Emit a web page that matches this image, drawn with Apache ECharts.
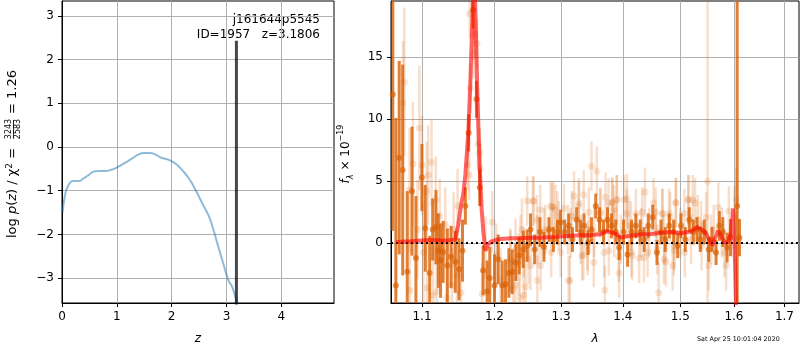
<!DOCTYPE html>
<html>
<head>
<meta charset="utf-8">
<script src="https://cdn.jsdelivr.net/npm/echarts@6/dist/echarts.min.js"></script>
<style>
  html, body { margin: 0; padding: 0; background: #fff; }
  #main { width: 800px; height: 350px; }
</style>
</head>
<body>
<div id="main"></div>
<script>
// left panel: log p(z)
var pzZ = [0.01, 0.04, 0.08, 0.14, 0.2, 0.31, 0.4, 0.49, 0.58, 0.67, 0.79, 0.9, 1.0, 1.14, 1.26, 1.38, 1.5,
  1.6, 1.72, 1.8, 1.96, 2.08, 2.2, 2.33, 2.45, 2.57, 2.68, 2.76, 2.85, 2.94, 3.04, 3.1, 3.19, 3.26];
var pzLog = [-1.51, -1.21, -0.98, -0.83, -0.78, -0.78, -0.71, -0.64, -0.56, -0.55, -0.55, -0.52, -0.47, -0.37, -0.28, -0.18, -0.14,
  -0.14, -0.18, -0.24, -0.30, -0.39, -0.54, -0.75, -1.02, -1.32, -1.59, -1.89, -2.28, -2.66, -3.07, -3.19, -3.57, -4.0];
var zBest = 3.1806;
var zBestTop = 2.43;
var zTicks = [0, 1, 2, 3, 4];
var pzTicks = [-3, -2, -1, 0, 1, 2, 3];

// right panel: spectrum, lambda (um), flux, error
var darkLam = [1.0621, 1.0660, 1.0703, 1.0748, 1.0807, 1.0869, 1.0920, 1.0999, 1.1043, 1.1102, 1.1142, 1.1186, 1.1217, 1.1248,
  1.1283, 1.1340, 1.1391, 1.1449, 1.1500, 1.1548, 1.1588, 1.1634, 1.1696, 1.1743, 1.1790, 1.1838, 1.1895, 1.1933, 1.2001,
  1.2054, 1.2113, 1.2161, 1.2210, 1.2259, 1.2313, 1.2363, 1.2423, 1.2482, 1.2532, 1.2593, 1.2674, 1.2735, 1.2812, 1.2880,
  1.2942, 1.2993, 1.3056, 1.3119, 1.3178, 1.3246, 1.3310, 1.3363, 1.3428, 1.3483, 1.3553, 1.3614, 1.3680, 1.3745, 1.3812,
  1.3883, 1.3939, 1.4013, 1.4081, 1.4149, 1.4222, 1.4296, 1.4365, 1.4435, 1.4512, 1.4587, 1.4657, 1.4733, 1.4804, 1.4882,
  1.4954, 1.5014, 1.5091, 1.5164, 1.5237, 1.5305, 1.5366, 1.5440, 1.5522, 1.5584, 1.5660, 1.5722, 1.5787, 1.5869, 1.5933,
  1.6062, 1.6106];
var darkFlux = [12, -3.4, 6.9, 5.9, -2.3, 4.2, -1.2, 5.3, 1.2, -2.4, 1.1, 1.3, -0.6, -1.4,
  -0.7, -1.8, -1.1, -1.5, -2.1, -0.6, 3.0, 8.9, 18.8, 11.6, 4.5, -2.2, -3.9, -2.8, -3.4,
  -1.3, -3.4, -3.3, -2.4, -2.3, -1.55, -1.0, -0.5, -0.2, 1.1, -0.5, 0.9, -0.3, 1.1, 0.3,
  0.9, 1.7, 0.9, 1.4, 0.3, 1.9, 0.9, 1.4, 0.05, 1.1, 3.0, 1.9, 0.9, 1.9, 1.4,
  0.9, -0.35, 0.9, -0.9, 0.9, 1.4, 0.9, 0.3, 1.4, 2.1, -0.75, 0.9, 0.3, 1.4, 0.9,
  -0.2, 1.4, 0.3, 1.9, 0.9, 1.1, 0.3, 0.9, -0.5, 0.3, -0.75, 1.4, 0.9, -0.35, 0.45,
  3, 0.45];
var darkErr = [11, 13.5, 7.8, 8.5, 6.5, 5.2, 5, 2.7, 3.5, 3, 2.5, 3, 3, 3,
  2.5, 3, 2.5, 2.5, 2.5, 2.5, 1.5, 1.5, 1.5, 1.5, 1.5, 2, 2.5, 2.5, 2.5,
  2, 2, 2, 2, 1.8, 1.5, 1.5, 1.5, 1.3, 1.3, 1.2, 1.2, 1.2, 1.0, 1.0,
  1.0, 1.0, 1.0, 1.0, 1.0, 1.0, 1.0, 1.0, 1.0, 1.0, 1.0, 1.0, 1.0, 1.0, 1.0,
  1.0, 1.0, 1.0, 1.0, 1.0, 1.0, 1.0, 1.0, 1.0, 1.0, 1.0, 1.0, 1.0, 1.0, 1.0,
  1.0, 1.0, 1.0, 1.0, 1.0, 1.0, 1.0, 1.0, 1.0, 1.0, 1.0, 1.2, 1.2, 1.2, 1.5,
  30, 1.5];

var lightLam = [1.0752, 1.0769, 1.0837, 1.0842, 1.0880, 1.0940, 1.0966, 1.1001, 1.1018, 1.1062, 1.1066, 1.1083, 1.1127, 1.1148,
  1.1184, 1.1197, 1.1237, 1.1312, 1.1334, 1.1403, 1.1426, 1.1472, 1.1480, 1.1527, 1.1620, 1.1640, 1.1648, 1.1658, 1.1704,
  1.1718, 1.1752, 1.1766, 1.1790, 1.1800, 1.1823, 1.1871, 1.1968, 1.2026, 1.2088, 1.2234, 1.2274, 1.2308, 1.2372, 1.2382,
  1.2432, 1.2457, 1.2482, 1.2532, 1.2567, 1.2634, 1.2639, 1.2735, 1.2838, 1.2846, 1.2880, 1.2942, 1.2993, 1.3045, 1.3108,
  1.3140, 1.3151, 1.3204, 1.3283, 1.3310, 1.3353, 1.3418, 1.3483, 1.3526, 1.3570, 1.3624, 1.3690, 1.3701, 1.3762, 1.3828,
  1.3855, 1.3895, 1.3939, 1.3967, 1.4023, 1.4068, 1.4137, 1.4145, 1.4222, 1.4279, 1.4308, 1.4377, 1.4423, 1.4451, 1.4528,
  1.4569, 1.4616, 1.4686, 1.4715, 1.4745, 1.4821, 1.4864, 1.4893, 1.4924, 1.5001, 1.5075, 1.5083, 1.5150, 1.5196, 1.5227,
  1.5270, 1.5319, 1.5380, 1.5390, 1.5473, 1.5501, 1.5522, 1.5566, 1.5616, 1.5704, 1.5768, 1.5818, 1.5850, 1.5902, 1.6011,
  1.6043,
  // second pass over the middle of the cloud
  1.2230, 1.2304, 1.2352, 1.2403, 1.2427, 1.2502, 1.2578, 1.2628, 1.2679, 1.2684, 1.2756, 1.2859, 1.2910, 1.2962, 1.3119,
  1.3171, 1.3278, 1.3331, 1.3358, 1.3423, 1.3440, 1.3520, 1.3630, 1.3712, 1.3767, 1.3821, 1.3850, 1.3905, 1.3933, 1.4070,
  1.4103, 1.4159, 1.4330, 1.4360, 1.4563, 1.4592, 1.4680, 1.4710, 1.4798, 1.4888, 1.4918, 1.5146];
var lightFlux = [11.3, 13.0, 4.3, -3.8, 6.4, 1.1, 9.3, 6.3, -0.75, 4.2, -3.6, 5.5, 6.5, -4.2,
  3.5, -3.9, 2.2, 1.5, -4.4, -3.4, 1.1, -2.6, 3.0, -4.0, 6.3, 5.5, 18.5, 12.5, 15.3,
  16.8, 16.1, 8.0, 7.3, 6.0, -4.1, -0.35, 1.7, -0.9, -2.9, -1.5, -3.7, -0.5, -4.4, 0.3,
  -0.75, -3.5, 3.4, -1.8, 3.4, -3.0, 0.3, 0.86, 3.0, -0.75, 2.95, 2.2, -0.75, 2.8, 1.1,
  -3.0, 0.86, 3.8, 3.25, 0.3, -1.0, -0.2, 6.2, 0.86, 5.8, 2.4, -0.75, -3.8, 3.25, 3.25,
  0.86, 3.5, -2.4, 0.3, 3.5, 2.4, 1.4, -0.75, 2.4, -1.2, 0.86, 4.1, -0.75, 0.86, 3.25,
  0.86, -4.0, 2.4, 0.3, -1.5, 2.1, -1.8, -0.2, 3.25, 0.86, 2.4, -0.75, 3.5, 0.3, 3.5,
  3.25, 1.9, 1.4, -0.2, 2.1, 5, -1.8, 0.3, 1.1, 2.9, 0.86, -0.75, -1.8, 2.6, 2.1,
  3.5,
  -1.3, -3.4, -1.7, 1.1, -4.2, -1.3, 3.4, 1.9, 2.7, -1.8, 1.1, 2.9, 2.7, 1.4, -3.0,
  2.2, 3.0, -1.0, 3.9, -0.6, 2.5, -1.55, 2.5, 3.7, -0.6, 3.3, 2.7, 3.5, -1.1, 3.6,
  1.4, -1.0, 2.5, -1.15, 2.5, -0.5, 2.4, -1.3, 2.4, -0.6, 3.3, 3.5];
var lightErr = [5, 6, 5, 4, 5, 4, 5, 4, 4, 4, 4, 4, 3.5, 4,
  3.5, 3, 3, 3, 3, 3, 3, 3, 3, 3, 2, 2, 2, 2, 2,
  2, 2, 2, 2, 2, 2.5, 2.5, 2.5, 2.5, 2.5, 2.5, 2.5, 2.5, 2.5, 2,
  2, 2.5, 2, 2, 2, 2, 2, 2, 2, 2, 2, 2, 2, 2, 2,
  2, 2, 2, 2, 2, 2, 2, 2, 2, 2, 2, 2, 2, 2, 2,
  2, 2, 2, 2, 2, 2, 2, 2, 2, 2, 2, 2, 2, 2, 2,
  2, 2.5, 2, 2, 2, 2, 2, 2, 2, 2, 2, 2, 2, 2, 2,
  2, 2, 2, 2, 2, 30, 2, 2, 2, 2, 2, 2, 2, 2, 2.5,
  2.5,
  2.5, 2.5, 2.5, 2.5, 2.5, 2, 2, 2, 2, 2, 2, 2, 2, 2, 2,
  2, 2, 2, 2, 2, 2, 2, 2, 2, 2, 2, 2, 2, 2, 2,
  2, 2, 2, 2, 2, 2, 2, 2, 2, 2, 2, 2];

var modelLam = [1.0666, 1.0846, 1.1110, 1.1312, 1.1449, 1.1490, 1.1532, 1.1560, 1.1588, 1.1630, 1.1658, 1.1686, 1.1712,
  1.1729, 1.1757, 1.1786, 1.1814, 1.1843, 1.1871, 1.1900, 1.1943, 1.2015, 1.2088, 1.2234, 1.2382, 1.2532, 1.2684, 1.2838,
  1.2993, 1.3151, 1.3310, 1.3472, 1.3635, 1.3717, 1.3800, 1.3883, 1.3967, 1.4052, 1.4137, 1.4308, 1.4481, 1.4657, 1.4834,
  1.5014, 1.5196, 1.5305, 1.5380, 1.5473, 1.5529, 1.5585, 1.5640, 1.5698, 1.5755, 1.5831, 1.5889, 1.5946, 1.5985, 1.6024,
  1.6043];
var modelFlux = [0.1, 0.15, 0.25, 0.2, 0.3, 1.5, 3.2, 4.0, 5.5, 9.0, 13.0, 18.0, 21.5,
  18.5, 12.0, 6.5, 3.0, 0.8, -0.6, -0.2, 0.1, 0.25, 0.35, 0.4, 0.4, 0.45, 0.45, 0.5,
  0.55, 0.6, 0.65, 0.65, 0.75, 0.95, 0.9, 0.75, 0.45, 0.55, 0.6, 0.7, 0.75, 0.85, 0.9,
  0.8, 0.95, 1.3, 1.15, 0.8, 0.3, -0.2, 0.4, 1.0, 0.6, 0.0, 0.1, 0.9, 2.8, -2,
  -6];

var lamTicks = [1.1, 1.2, 1.3, 1.4, 1.5, 1.6, 1.7];
var fluxTicks = [0, 5, 10, 15];
var lamMin = 1.0598, lamMax = 1.730;

var ORANGE = '217,95,2';
var font = '"DejaVu Sans", sans-serif';

// x axis of the spectrum is logarithmic in lambda
function ln(v) { return Math.log(v); }
function triples(lam, f, e) {
  return lam.map(function (l, i) { return [ln(l), f[i], e[i]]; });
}
var darkData = triples(darkLam, darkFlux, darkErr);
var lightData = triples(lightLam, lightFlux, lightErr);
var modelData = modelLam.map(function (l, i) { return [ln(l), modelFlux[i]]; });
var pzData = pzZ.map(function (z, i) { return [z, pzLog[i]]; });

function errBars(color, width) {
  return function (params, api) {
    var x = api.value(0), y = api.value(1), e = api.value(2);
    var a = api.coord([x, y - e]), b = api.coord([x, y + e]);
    return {
      type: 'line',
      shape: { x1: a[0], y1: a[1], x2: b[0], y2: b[1] },
      style: { stroke: color, lineWidth: width }
    };
  };
}
function minus(v) { return String(v).replace('-', '\u2212'); }

var tickLabel = { color: '#000', fontFamily: font, fontSize: 12 };
var myChart = echarts.init(document.getElementById('main'), null, { renderer: 'canvas' });
var option = {
  animation: false,
  backgroundColor: '#fff',
  grid: [
    { left: 62, top: 1, width: 272, height: 303, show: true, borderColor: '#000', borderWidth: 1 },
    { left: 391, top: 1, width: 408, height: 303, show: true, borderColor: '#000', borderWidth: 1 }
  ],
  xAxis: [
    {
      gridIndex: 0, type: 'value', min: 0, max: 4.96,
      name: 'z', nameLocation: 'middle', nameGap: 30,
      nameTextStyle: { fontFamily: font, fontSize: 12, fontStyle: 'italic', color: '#000' },
      axisLine: { show: true, onZero: false, lineStyle: { color: '#000' } },
      axisTick: { show: true, length: 4, customValues: zTicks, lineStyle: { color: '#000' } },
      axisLabel: Object.assign({ customValues: zTicks, margin: 8 }, tickLabel),
      splitLine: { show: true, lineStyle: { color: '#b0b0b0', width: 1 } }
    },
    {
      gridIndex: 1, type: 'value', min: ln(lamMin), max: ln(lamMax),
      name: '\u03bb', nameLocation: 'middle', nameGap: 30,
      nameTextStyle: { fontFamily: font, fontSize: 12, fontStyle: 'italic', color: '#000' },
      axisLine: { show: true, onZero: false, lineStyle: { color: '#000' } },
      axisTick: { show: true, length: 4, customValues: lamTicks.map(ln), lineStyle: { color: '#000' } },
      axisLabel: Object.assign({
        customValues: lamTicks.map(ln), margin: 8,
        formatter: function (v) { return Math.exp(v).toFixed(1); }
      }, tickLabel),
      splitLine: { show: true, lineStyle: { color: '#b0b0b0', width: 1 } }
    }
  ],
  yAxis: [
    {
      gridIndex: 0, type: 'value', min: -3.57, max: 3.34,
      axisLine: { show: true, onZero: false, lineStyle: { color: '#000' } },
      axisTick: { show: true, length: 4, customValues: pzTicks, lineStyle: { color: '#000' } },
      axisLabel: Object.assign({ customValues: pzTicks, margin: 8, formatter: minus }, tickLabel),
      splitLine: { show: true, lineStyle: { color: '#b0b0b0', width: 1 } }
    },
    {
      gridIndex: 1, type: 'value', min: -4.82, max: 19.53,
      axisLine: { show: true, onZero: false, lineStyle: { color: '#000' } },
      axisTick: { show: true, length: 4, customValues: fluxTicks, lineStyle: { color: '#000' } },
      axisLabel: Object.assign({ customValues: fluxTicks, margin: 8 }, tickLabel),
      splitLine: { show: true, lineStyle: { color: '#b0b0b0', width: 1 } }
    }
  ],
  series: [
    {
      type: 'line', xAxisIndex: 0, yAxisIndex: 0, data: pzData,
      showSymbol: false, smooth: true, clip: true,
      lineStyle: { color: 'rgba(31,119,180,0.5)', width: 2 }
    },
    {
      type: 'line', xAxisIndex: 0, yAxisIndex: 0, data: [[zBest, -10], [zBest, zBestTop]],
      showSymbol: false, clip: true,
      lineStyle: { color: 'rgba(0,0,0,0.72)', width: 3 }
    },
    {
      type: 'custom', xAxisIndex: 1, yAxisIndex: 1, data: lightData, clip: true,
      renderItem: errBars('rgba(' + ORANGE + ',0.2)', 2.5)
    },
    {
      type: 'scatter', xAxisIndex: 1, yAxisIndex: 1, data: lightData, symbolSize: 7,
      itemStyle: { color: 'rgba(' + ORANGE + ',0.2)' }
    },
    {
      type: 'custom', xAxisIndex: 1, yAxisIndex: 1, data: darkData, clip: true,
      renderItem: errBars('rgba(' + ORANGE + ',0.8)', 3)
    },
    {
      type: 'scatter', xAxisIndex: 1, yAxisIndex: 1, data: darkData, symbolSize: 6,
      itemStyle: { color: 'rgba(' + ORANGE + ',0.8)' }
    },
    {
      type: 'line', xAxisIndex: 1, yAxisIndex: 1, data: modelData,
      showSymbol: false, clip: true, z: 5,
      lineStyle: { color: 'rgba(255,0,0,0.6)', width: 4 },
      markLine: {
        silent: true, symbol: 'none', label: { show: false },
        lineStyle: { color: '#000', type: [2, 3], width: 2 },
        data: [{ yAxis: 0 }]
      }
    }
  ],
  graphic: [
    {
      type: 'text', x: 320, y: 20,
      style: { text: 'j161644p5545', font: '12px ' + font, fill: '#000', align: 'right', verticalAlign: 'middle', textAlign: 'right', textVerticalAlign: 'middle' }
    },
    {
      type: 'text', x: 320, y: 35,
      style: { text: 'ID=1957   z=3.1806', font: '12px ' + font, fill: '#000', align: 'right', verticalAlign: 'middle', textAlign: 'right', textVerticalAlign: 'middle' }
    },
    {
      // rotated y label of the left panel, with a stacked fraction
      type: 'group', x: 13, y: 238, rotation: Math.PI / 2,
      children: [
        {
          type: 'text', x: 0, y: 0,
          style: {
            text: '{n|log }{i|p}{n|(}{i|z}{n|) / }{n|\u03c7}{s|2}{n| =}',
            align: 'left', verticalAlign: 'middle', textAlign: 'left', textVerticalAlign: 'middle',
            rich: {
              n: { fontFamily: font, fontSize: 13, lineHeight: 16, fill: '#000', color: '#000' },
              i: { fontFamily: font, fontSize: 13, lineHeight: 16, fontStyle: 'italic', fill: '#000', color: '#000' },
              s: { fontFamily: font, fontSize: 9, lineHeight: 16, verticalAlign: 'top', fill: '#000', color: '#000' }
            }
          }
        },
        {
          type: 'text', x: 109, y: -4,
          style: { text: '3243', font: '8px ' + font, fill: '#000', align: 'center', verticalAlign: 'middle', textAlign: 'center', textVerticalAlign: 'middle' }
        },
        {
          type: 'line', shape: { x1: 100, y1: 0.5, x2: 118, y2: 0.5 }, style: { stroke: '#000', lineWidth: 0.8 }
        },
        {
          type: 'text', x: 109, y: 5,
          style: { text: '2583', font: '8px ' + font, fill: '#000', align: 'center', verticalAlign: 'middle', textAlign: 'center', textVerticalAlign: 'middle' }
        },
        {
          type: 'text', x: 124, y: 0,
          style: { text: '= 1.26', font: '13px ' + font, fill: '#000', align: 'left', verticalAlign: 'middle', textAlign: 'left', textVerticalAlign: 'middle' }
        }
      ]
    },
    {
      type: 'group', x: 346, y: 154, rotation: Math.PI / 2,
      children: [
        {
          type: 'text', x: 0, y: 0,
          style: {
            text: '{i|f}{b|\u03bb}{n| \u00d7 10}{t|\u221219}',
            align: 'center', verticalAlign: 'middle', textAlign: 'center', textVerticalAlign: 'middle',
            rich: {
              n: { fontFamily: font, fontSize: 12, lineHeight: 18, fill: '#000', color: '#000' },
              i: { fontFamily: font, fontSize: 12, lineHeight: 18, fontStyle: 'italic', fill: '#000', color: '#000' },
              b: { fontFamily: font, fontSize: 8, lineHeight: 18, verticalAlign: 'bottom', fontStyle: 'italic', fill: '#000', color: '#000' },
              t: { fontFamily: font, fontSize: 8, lineHeight: 18, verticalAlign: 'top', fill: '#000', color: '#000' }
            }
          }
        }
      ]
    },
    {
      type: 'text', x: 697, y: 339,
      style: { text: 'Sat Apr 25 10:01:04 2020', font: '6.4px ' + font, fill: '#000', align: 'left', verticalAlign: 'middle', textAlign: 'left', textVerticalAlign: 'middle' }
    }
  ]
};
myChart.setOption(option);
</script>
</body>
</html>
